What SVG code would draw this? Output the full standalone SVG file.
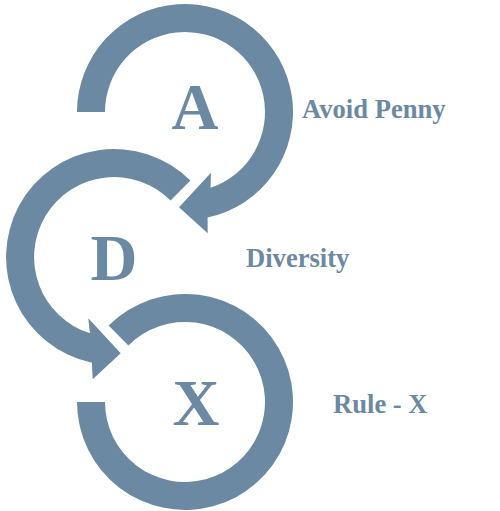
<svg xmlns="http://www.w3.org/2000/svg" width="500" height="511" viewBox="0 0 500 511">
  <style>
    .ring { fill: #6b89a2; stroke: none; }
    .letter { font-family: "Liberation Serif", "Times New Roman", serif; font-weight: bold; font-size: 65px; fill: #6b89a2; text-anchor: middle; }
    .label { font-family: "Liberation Serif", "Times New Roman", serif; font-weight: bold; font-size: 26.6px; fill: #6b89a2; }
  </style>
  <rect width="500" height="511" fill="#ffffff"/>
  <g id="connectors">
    <path id="arrow-a" class="ring" d="M 77 112 A 108 108 0 1 1 207.6 217.6 L 207.7 233.3 L 179 207.3 L 211 172.7 L 210.5 187.8 A 80 80 0 1 0 105 112 Z"/>
    <path id="arrow-d" class="ring" d="M 190.4 180.6 A 108 108 0 1 0 91.9 362.7 L 92.7 379.3 L 120.7 353.3 L 88.3 318.3 L 89.9 333.3 A 80 80 0 1 1 170.6 200.4 Z"/>
    <path id="arc-x" class="ring" d="M 108.6 325.6 A 108 108 0 1 1 77 402 L 105 402 A 80 80 0 1 0 128.4 345.4 Z"/>
  </g>
  <g id="node-a">
    <text class="letter" x="195" y="129">A</text>
    <text class="label" x="302" y="117.7">Avoid Penny</text>
  </g>
  <g id="node-d">
    <text class="letter" x="114" y="280">D</text>
    <text class="label" x="246" y="267.3">Diversity</text>
  </g>
  <g id="node-x">
    <text class="letter" x="196" y="425">X</text>
    <text class="label" x="333" y="413.3">Rule - X</text>
  </g>
</svg>
